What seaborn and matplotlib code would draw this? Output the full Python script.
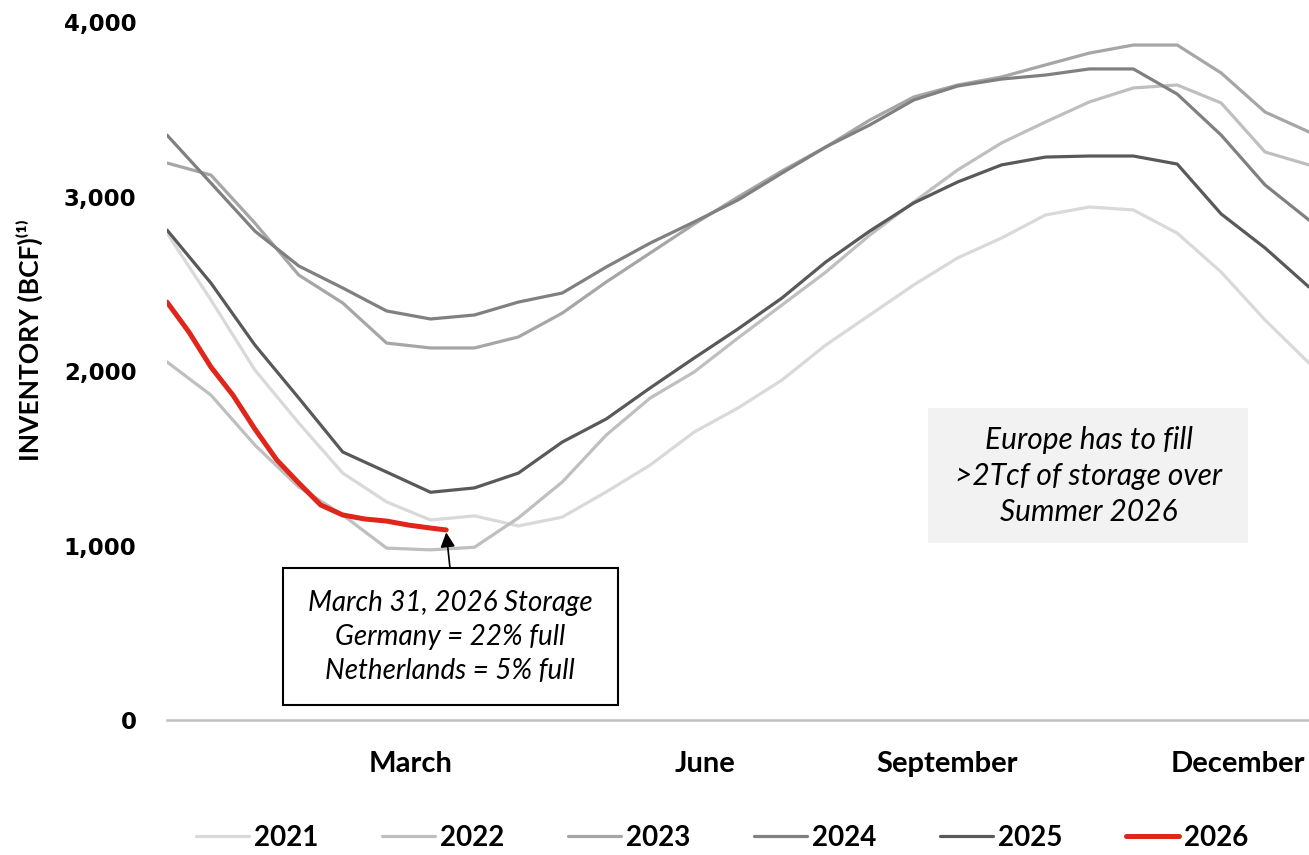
import matplotlib
matplotlib.use('Agg')
import matplotlib.pyplot as plt
import seaborn as sns
import pandas as pd
from matplotlib.patches import Rectangle

# day of year for the sampled points (every two weeks)
days = [1, 15, 29, 43, 57, 71, 85, 99, 113, 127, 141, 155, 169, 183,
        197, 211, 225, 239, 253, 267, 281, 295, 309, 323, 337, 351, 365]

inv_2021 = [2790, 2407, 2006, 1702, 1415, 1250, 1146, 1170, 1112, 1163, 1307, 1461, 1650, 1788,
            1948, 2149, 2321, 2493, 2648, 2762, 2894, 2940, 2923, 2790, 2567, 2292, 2046]
inv_2022 = [2052, 1862, 1576, 1335, 1175, 985, 975, 990, 1158, 1364, 1633, 1845, 1994, 2189,
            2378, 2567, 2779, 2968, 3152, 3307, 3427, 3542, 3622, 3639, 3536, 3255, 3181]
inv_2023 = [3192, 3123, 2848, 2550, 2390, 2160, 2132, 2132, 2195, 2332, 2510, 2676, 2842, 2997,
            3146, 3284, 3438, 3570, 3639, 3685, 3754, 3822, 3868, 3868, 3708, 3484, 3370]
inv_2024 = [3352, 3077, 2802, 2602, 2476, 2344, 2298, 2321, 2395, 2447, 2596, 2733, 2854, 2980,
            3134, 3284, 3410, 3553, 3633, 3673, 3696, 3731, 3731, 3587, 3352, 3066, 2865]
inv_2025 = [2808, 2504, 2149, 1845, 1536, 1421, 1305, 1330, 1415, 1593, 1725, 1903, 2074, 2241,
            2418, 2625, 2802, 2963, 3083, 3181, 3226, 3232, 3232, 3186, 2900, 2705, 2481]

# 2026 only up to March 31 (weekly)
days_2026 = [1, 8, 15, 22, 29, 36, 43, 50, 57, 64, 71, 78, 85, 90]
inv_2026 = [2395, 2223, 2023, 1862, 1668, 1490, 1358, 1232, 1175, 1152, 1140, 1117, 1100, 1089]

years = ['2021', '2022', '2023', '2024', '2025', '2026']
colors = ['#d9d9d9', '#bfbfbf', '#a6a6a6', '#808080', '#595959', '#e0261b']

month_pos = [78.5, 172.5, 249.6, 342.4]
month_labels = ['March', 'June', 'September', 'December']
y_ticks = [0, 1000, 2000, 3000, 4000]

frames = []
for yr, vals in zip(years[:5], [inv_2021, inv_2022, inv_2023, inv_2024, inv_2025]):
    frames.append(pd.DataFrame({'day': days, 'bcf': vals, 'year': yr}))
frames.append(pd.DataFrame({'day': days_2026, 'bcf': inv_2026, 'year': '2026'}))
df = pd.concat(frames, ignore_index=True)

sns.set_style('white')
plt.rcParams['font.family'] = ['Lato', 'DejaVu Sans']
plt.rcParams['text.color'] = 'black'
plt.rcParams['xtick.color'] = 'black'
plt.rcParams['ytick.color'] = 'black'

fig = plt.figure(figsize=(13.09, 8.55), dpi=100)
ax = fig.add_axes([167/1309, 1 - 720/855, 1142/1309, 698/855])

for yr, c in zip(years, colors):
    sub = df[df['year'] == yr]
    sns.lineplot(data=sub, x='day', y='bcf', color=c, ax=ax,
                 linewidth=3.6 if yr == '2026' else 2.3, label=yr)

ax.set_xlim(1, 365)
ax.set_ylim(0, 4000)
for s in ['top', 'right', 'left']:
    ax.spines[s].set_visible(False)
ax.spines['bottom'].set_color('#bfbfbf')
ax.spines['bottom'].set_linewidth(1.8)
ax.set_xlabel('')
ax.set_ylabel('')

ax.set_yticks(y_ticks)
ax.set_yticklabels([f'{v:,}' for v in y_ticks], fontsize=16.5, fontweight='bold',
                   family='DejaVu Sans')
ax.set_xticks(month_pos)
ax.set_xticklabels(month_labels, fontsize=21, fontweight='bold')
ax.tick_params(axis='y', length=0, pad=22)
ax.tick_params(axis='x', length=0, pad=22)

fig.text(30/1309, 1 - 340/855, 'INVENTORY (BCF)⁽¹⁾', rotation=90, ha='center', va='center',
         fontsize=19, fontweight='bold')

# callout for 2026
ax.add_patch(Rectangle((0.1016, 0.0215), 0.2934, 0.1963, transform=ax.transAxes,
                       facecolor='white', edgecolor='black', lw=1.5, zorder=5))
ax.text(0.2478, 0.119, 'March 31, 2026 Storage\nGermany = 22% full\nNetherlands = 5% full',
        transform=ax.transAxes, ha='center', va='center', fontsize=20, style='italic',
        linespacing=1.38, zorder=6)
ax.annotate('', xy=(90, 1075), xycoords='data', xytext=(0.2478, 0.2178),
            textcoords='axes fraction',
            arrowprops=dict(arrowstyle='-|>', color='black', lw=1.2, mutation_scale=22,
                            shrinkA=0, shrinkB=0), zorder=6)

ax.add_patch(Rectangle((0.666, 0.2536), 0.281, 0.1934, transform=ax.transAxes,
                       facecolor='#f2f2f2', edgecolor='none', zorder=4))
ax.text(0.807, 0.3496, 'Europe has to fill\n>2Tcf of storage over\nSummer 2026',
        transform=ax.transAxes, ha='center', va='center', fontsize=21.5, style='italic',
        linespacing=1.35, zorder=6)

handles, labels = ax.get_legend_handles_labels()
ax.get_legend().remove()
fig.legend(handles, labels, loc='center', bbox_to_anchor=(722/1309, 1 - 838/855), ncol=6,
           frameon=False, prop={'size': 20, 'weight': 'bold'}, handlelength=1.9,
           handletextpad=0.18, columnspacing=2.3)

fig.savefig('out.png', dpi=100)
